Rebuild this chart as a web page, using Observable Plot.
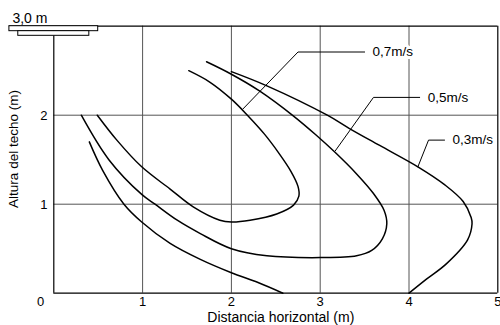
<!DOCTYPE html>
<html>
<head>
<meta charset="utf-8">
<script src="https://cdn.jsdelivr.net/npm/d3@7"></script>
<script src="https://cdn.jsdelivr.net/npm/@observablehq/plot@0.6"></script>
<style>
  html, body { margin: 0; padding: 0; background: #fff; }
  #chart svg { display: block; }
</style>
</head>
<body>
<div id="chart"></div>
<script>
// ---- data (metres) ----
const xTicks = [1, 2, 3, 4, 5];
const yTicks = [1, 2];
const gridX = [1, 2, 3, 4];
const gridY = [1, 2];
const ceilingHeight = 3;
const ceilingLabel = "3,0 m";
const xLabel = "Distancia horizontal (m)";
const yLabel = "Altura del techo (m)";
const originLabel = "0";

// diffuser outline (m)
const diffuserOuter = [{x1: -0.5, x2: 0.5, y1: 2.944, y2: 3.0}];
const diffuserInner = [{x1: -0.4, x2: 0.4, y1: 2.892, y2: 2.944}];

// isovel 0.7 m/s
const curve07 = [
  [1.52, 2.50], [1.76, 2.37], [2.0, 2.18], [2.18, 2.0], [2.37, 1.79], [2.53, 1.58],
  [2.67, 1.37], [2.75, 1.20], [2.76, 1.09], [2.70, 0.99], [2.51, 0.89],
  [2.21, 0.82], [2.0, 0.80], [1.87, 0.82], [1.57, 0.97], [1.31, 1.17],
  [0.99, 1.42], [0.71, 1.72], [0.49, 2.0]
];
// isovel 0.5 m/s
const curve05 = [
  [1.72, 2.60], [2.0, 2.46], [2.32, 2.27], [2.70, 1.99], [2.95, 1.78], [3.17, 1.58],
  [3.41, 1.34], [3.60, 1.12], [3.72, 0.93], [3.75, 0.78], [3.70, 0.61],
  [3.58, 0.48], [3.41, 0.42], [3.0, 0.40], [2.4, 0.42], [2.0, 0.50],
  [1.65, 0.67], [1.39, 0.82], [1.14, 1.0], [0.99, 1.11], [0.62, 1.50], [0.31, 2.0]
];
// isovel 0.3 m/s (outer branch)
const curve03a = [
  [2.0, 2.49], [2.4, 2.33], [3.08, 2.0], [3.33, 1.85], [3.67, 1.66],
  [4.10, 1.42], [4.40, 1.22], [4.61, 1.03], [4.70, 0.85], [4.71, 0.78],
  [4.66, 0.60], [4.42, 0.33], [4.20, 0.16], [4.0, 0.0]
];
// isovel 0.3 m/s (inner branch)
const curve03b = [
  [0.40, 1.70], [0.55, 1.38], [0.79, 1.0], [0.99, 0.80], [1.31, 0.56],
  [1.65, 0.38], [2.0, 0.23], [2.30, 0.12], [2.58, 0.0]
];

// labels and leader lines
const speedLabels = ["0,7m/s", "0,5m/s", "0,3m/s"];
const labelX = [3.59, 4.21, 4.49];
const labelY = [2.71, 2.20, 1.72];
const leader07 = [[2.13, 2.07], [2.75, 2.71], [3.50, 2.71]];
const leader05 = [[3.17, 1.60], [3.60, 2.20], [4.12, 2.20]];
const leader03 = [[4.10, 1.42], [4.22, 1.72], [4.40, 1.72]];

const labels = speedLabels.map((t, i) => ({t, x: labelX[i], y: labelY[i]}));

const font = "Arial, 'Liberation Sans', sans-serif";
const grid = "#555";

const chart = Plot.plot({
  width: 500,
  height: 325,
  marginLeft: 53.3,
  marginRight: 2.7,
  marginTop: 25.7,
  marginBottom: 32.3,
  style: {fontFamily: font, fontSize: "13px", background: "white", color: "black"},
  x: {domain: [0, 5], axis: null},
  y: {domain: [0, ceilingHeight], axis: null},
  marks: [
    // grid
    Plot.ruleX(gridX, {x: d => d, stroke: grid, strokeWidth: 1}),
    Plot.ruleY(gridY, {y: d => d, x1: 0, x2: 5, stroke: grid, strokeWidth: 1}),
    // frame
    Plot.ruleX([5], {x: d => d, stroke: "black", strokeWidth: 1.2}),
    Plot.ruleY([0], {y: d => d, x1: 0, x2: 5, stroke: "black", strokeWidth: 1.2}),
    Plot.ruleY([ceilingHeight], {y: d => d, x1: diffuserOuter[0].x1, x2: 5, stroke: "black", strokeWidth: 1.2}),
    Plot.ruleX([0], {x: d => d, y1: 0, y2: diffuserInner[0].y1, stroke: "black", strokeWidth: 1.2}),
    // diffuser
    Plot.rect(diffuserOuter, {x1: "x1", x2: "x2", y1: "y1", y2: "y2", fill: "white", stroke: "black", strokeWidth: 1}),
    Plot.rect(diffuserInner, {x1: "x1", x2: "x2", y1: "y1", y2: "y2", fill: "white", stroke: "black", strokeWidth: 1}),
    // curves
    Plot.line(curve07, {curve: "catmull-rom", stroke: "black", strokeWidth: 1.5}),
    Plot.line(curve05, {curve: "catmull-rom", stroke: "black", strokeWidth: 1.5}),
    Plot.line(curve03a, {curve: "catmull-rom", stroke: "black", strokeWidth: 1.5}),
    Plot.line(curve03b, {curve: "catmull-rom", stroke: "black", strokeWidth: 1.5}),
    // leaders
    Plot.line(leader07, {stroke: "black", strokeWidth: 1}),
    Plot.line(leader05, {stroke: "black", strokeWidth: 1}),
    Plot.line(leader03, {stroke: "black", strokeWidth: 1}),
    // speed labels with white halo
    Plot.text(labels, {x: "x", y: "y", text: "t", textAnchor: "start", lineAnchor: "middle", fontSize: 13.5,
      fill: "black", stroke: "white", strokeWidth: 6}),
    // tick labels
    Plot.text(xTicks, {x: d => d, text: d => String(d), frameAnchor: "bottom", textAnchor: "middle", lineAnchor: "middle", dy: 8.8, fontSize: 13}),
    Plot.text(yTicks, {y: d => d, text: d => String(d), frameAnchor: "left", textAnchor: "end", lineAnchor: "middle", dx: -6.3, dy: 1, fontSize: 13}),
    Plot.text([originLabel], {text: d => d, frameAnchor: "bottom-left", textAnchor: "middle", lineAnchor: "middle", dx: -13.3, dy: 8.2, fontSize: 13}),
    // axis titles
    Plot.text([xLabel], {text: d => d, frameAnchor: "bottom", textAnchor: "middle", lineAnchor: "middle", dx: 5, dy: 24.3, fontSize: 14}),
    Plot.text([yLabel], {text: d => d, frameAnchor: "left", textAnchor: "middle", lineAnchor: "middle", rotate: -90, dx: -39.9, dy: -10.7, fontSize: 13.5}),
    // ceiling label
    Plot.text([ceilingLabel], {text: d => d, x: () => diffuserOuter[0].x1, y: () => ceilingHeight, textAnchor: "start", lineAnchor: "middle", dx: 3, dy: -7.5, fontSize: 14})
  ]
});
document.getElementById("chart").appendChild(chart);
</script>
</body>
</html>
